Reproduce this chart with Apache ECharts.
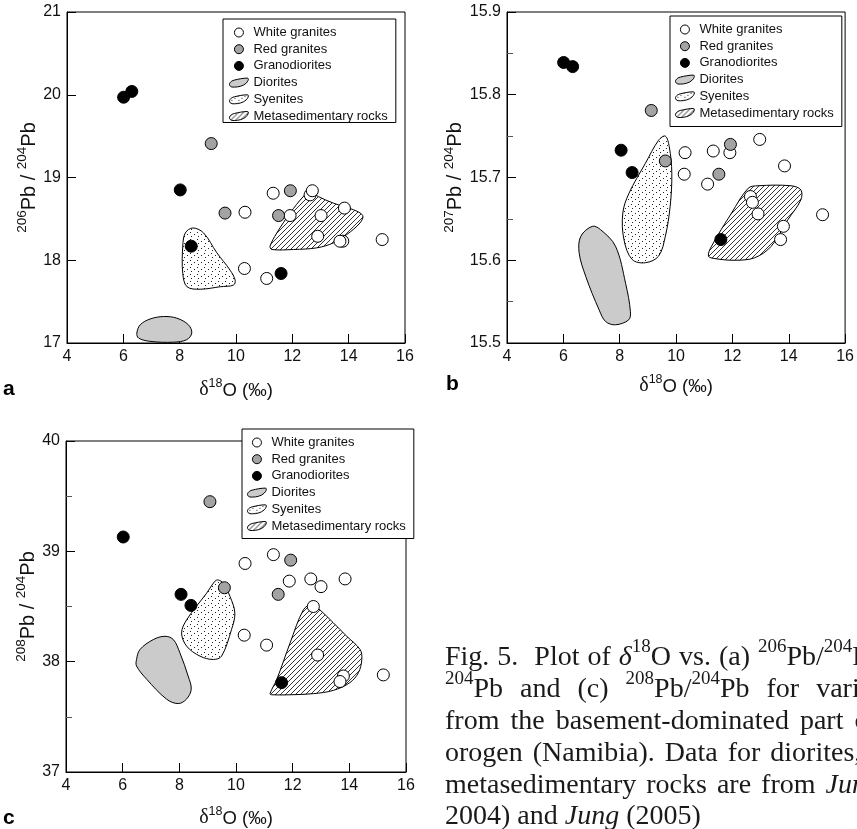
<!DOCTYPE html>
<html>
<head>
<meta charset="utf-8">
<title>d18O vs Pb isotopes</title>
<script src="https://cdn.jsdelivr.net/npm/echarts@6/dist/echarts.min.js"></script>
<style>
html, body { margin: 0; padding: 0; background: #fff; }
#chart { width: 857px; height: 829px; }
</style>
</head>
<body>
<div id="chart"></div>
<script>
// (a) 206Pb/204Pb
var whiteA = [[11.32,18.81],[11.92,18.54],[10.32,18.58],[10.30,17.90],[11.09,17.78],[12.63,18.79],[12.71,18.84],[13.02,18.54],[12.90,18.29],[13.85,18.63],[13.79,18.23],[13.69,18.23],[15.19,18.25]];
var redA = [[9.12,19.41],[9.61,18.57],[11.93,18.84],[11.51,18.54]];
var granoA = [[6.01,19.97],[6.30,20.04],[8.02,18.85],[8.41,18.17],[11.60,17.84]];
var dioriteA = [[6.48,17.12],[6.60,17.22],[6.95,17.29],[7.43,17.32],[7.90,17.30],[8.31,17.22],[8.43,17.12],[8.25,17.04],[7.78,17.01],[6.95,17.02],[6.54,17.06]];
var syeniteA = [[8.47,18.39],[8.85,18.33],[9.32,18.09],[9.79,17.88],[9.97,17.76],[9.91,17.70],[9.44,17.68],[8.73,17.65],[8.26,17.68],[8.11,17.84],[8.11,18.17],[8.20,18.33]];
var metaA = [[11.21,18.17],[11.45,18.33],[11.92,18.57],[12.39,18.77],[12.63,18.83],[12.92,18.77],[13.46,18.69],[14.17,18.61],[14.50,18.54],[14.40,18.45],[13.93,18.31],[13.46,18.21],[12.87,18.15],[12.04,18.13],[11.27,18.13]];

// (b) 207Pb/204Pb
var whiteB = [[10.32,15.730],[10.29,15.704],[11.32,15.732],[11.91,15.730],[11.12,15.692],[12.97,15.746],[13.85,15.714],[12.64,15.677],[12.71,15.670],[12.91,15.656],[13.81,15.641],[13.71,15.625],[15.20,15.655]];
var redB = [[9.12,15.781],[9.62,15.720],[11.93,15.740],[11.52,15.704]];
var granoB = [[6.01,15.839],[6.33,15.834],[8.05,15.733],[8.44,15.706],[11.59,15.625]];
var dioriteB = [[7.03,15.641],[7.32,15.637],[7.85,15.617],[8.21,15.572],[8.38,15.538],[8.32,15.528],[7.85,15.522],[7.50,15.526],[7.27,15.540],[6.80,15.580],[6.56,15.609],[6.62,15.629]];
var syeniteB = [[9.62,15.750],[9.76,15.737],[9.85,15.705],[9.79,15.665],[9.62,15.629],[9.38,15.605],[8.91,15.597],[8.44,15.601],[8.15,15.625],[8.11,15.657],[8.33,15.681],[8.91,15.717],[9.38,15.745]];
var metaB = [[11.15,15.605],[11.26,15.617],[11.97,15.657],[12.56,15.687],[12.91,15.690],[14.08,15.690],[14.43,15.685],[14.43,15.673],[13.97,15.649],[13.38,15.617],[12.79,15.603],[12.09,15.600],[11.38,15.602]];

// (c) 208Pb/204Pb
var whiteC = [[11.32,38.97],[10.32,38.89],[11.88,38.73],[12.64,38.75],[13.00,38.68],[13.85,38.75],[12.73,38.50],[10.29,38.24],[11.08,38.15],[12.88,38.06],[13.79,37.87],[13.67,37.82],[15.20,37.88]];
var redC = [[9.08,39.45],[9.59,38.67],[11.93,38.92],[11.49,38.61]];
var granoC = [[6.02,39.13],[8.06,38.61],[8.41,38.51],[11.61,37.81]];
var dioriteC = [[6.49,38.02],[6.61,38.11],[7.08,38.20],[7.49,38.23],[7.79,38.20],[8.02,38.08],[8.31,37.87],[8.42,37.75],[8.25,37.66],[7.96,37.62],[7.55,37.66],[6.85,37.84],[6.49,37.96]];
var syeniteC = [[9.38,38.74],[9.55,38.71],[9.79,38.59],[9.96,38.44],[9.84,38.29],[9.49,38.05],[9.20,38.02],[8.73,38.05],[8.26,38.14],[8.08,38.26],[8.26,38.38],[8.96,38.62],[9.26,38.73]];
var metaC = [[11.20,37.71],[11.44,37.84],[11.91,38.17],[12.38,38.47],[12.68,38.52],[12.96,38.47],[13.91,38.23],[14.38,38.11],[14.44,38.02],[14.32,37.90],[14.02,37.81],[13.44,37.74],[12.73,37.71],[11.91,37.70],[11.26,37.70]];

var yRanges = [[17, 21, 1], [15.5, 15.9, 0.1], [37, 40, 1]];
var yIso = ['206', '207', '208'];
var panelLetters = ['a', 'b', 'c'];

var captionLines = [
    'Fig. 5.  Plot of *δ*^18^O vs. (a) ^206^Pb/^204^Pb, (b) ^207^Pb/',
    '^204^Pb and (c) ^208^Pb/^204^Pb for various granitoids',
    'from the basement-dominated part of the Damara',
    'orogen (Namibia). Data for diorites, syenites and',
    'metasedimentary rocks are from *Jung* *et* *al.* (2000,',
    '2004) and *Jung* (2005)'
];
var captionGaps = [8, 17, 11, 10, 10, 7];

var SANS = 'Liberation Sans';
var SERIF = 'Liberation Serif';

// fill textures for the fields
function stipple() {
    var c = document.createElement('canvas');
    c.width = 7; c.height = 7;
    var g = c.getContext('2d');
    g.fillStyle = '#fff'; g.fillRect(0, 0, 7, 7);
    g.fillStyle = '#222';
    g.fillRect(1, 1, 1, 1); g.fillRect(5, 3, 1, 1); g.fillRect(2, 5, 1, 1);
    return { image: c, repeat: 'repeat' };
}
function hatch() {
    var s = 5;
    var c = document.createElement('canvas');
    c.width = s; c.height = s;
    var g = c.getContext('2d');
    g.fillStyle = '#fff'; g.fillRect(0, 0, s, s);
    g.strokeStyle = '#000'; g.lineWidth = 0.8;
    for (var k = -1; k <= 1; k++) {
        g.beginPath();
        g.moveTo(k * s - 1, s + 1);
        g.lineTo(k * s + s + 1, -1);
        g.stroke();
    }
    return { image: c, repeat: 'repeat' };
}
var dotFill = stipple();
var hatchFill = hatch();
var blob = 'path://M1,8 C-1,6 1,3 5,2 C9,1 14,0 18,0 C20,0 19,3 17,5 C14,8 9,9 5,9 C3,9 2,9 1,8 Z';

function field(name, pts, gi, fill) {
    return {
        name: name, type: 'custom', xAxisIndex: gi, yAxisIndex: gi,
        clip: false, z: 2, silent: true,
        itemStyle: { color: fill, borderColor: '#000', borderWidth: 1 },
        data: pts,
        renderItem: function (params, api) {
            if (params.dataIndex !== 0) return;
            var p = pts.map(function (d) { return api.coord(d); });
            return {
                type: 'polygon',
                shape: { points: p, smooth: 0.35 },
                style: { fill: fill, stroke: '#000', lineWidth: 1 }
            };
        }
    };
}
function dots(name, pts, gi, color) {
    return {
        name: name, type: 'scatter', xAxisIndex: gi, yAxisIndex: gi,
        symbol: 'circle', symbolSize: 12, z: 5, silent: true,
        itemStyle: { color: color, borderColor: '#000', borderWidth: 1, opacity: 1 },
        data: pts
    };
}

var grids = [
    { left: 67, top: 12, width: 338, height: 331 },
    { left: 507, top: 12, width: 341, height: 331 },
    { left: 66, top: 441, width: 340, height: 332 }
];
var xNameGap = [34, 30, 33];

var xAxes = [], yAxes = [], legends = [];
var legendPos = [
    { left: 223, top: 19, padding: [7, 8, 0, 6] },
    { left: 670, top: 16, padding: [7, 8, 7, 5] },
    { left: 242, top: 429, padding: [7, 8, 6, 5] }
];
var legendData = ['White granites', 'Red granites', 'Granodiorites',
    { name: 'Diorites', icon: blob }, { name: 'Syenites', icon: blob },
    { name: 'Metasedimentary rocks', icon: blob }];

for (var i = 0; i < 3; i++) {
    grids[i].show = true;
    grids[i].borderColor = '#000';
    grids[i].borderWidth = 1;
    xAxes.push({
        gridIndex: i, type: 'value', min: 4, max: 16, interval: 2,
        name: '{d|δ}{s|18}{m|O (‰)}', nameLocation: 'middle', nameGap: xNameGap[i],
        nameTextStyle: { rich: {
            d: { fontFamily: SERIF, fontSize: 20, lineHeight: 23, verticalAlign: 'bottom', color: '#111' },
            m: { fontFamily: SANS, fontSize: 18.5, lineHeight: 23, verticalAlign: 'bottom', color: '#111' },
            s: { fontFamily: SANS, fontSize: 12.5, lineHeight: 10, verticalAlign: 'top', color: '#111' }
        } },
        axisLine: { onZero: false, lineStyle: { color: '#000', width: 1 } },
        axisTick: { inside: true, length: 9, lineStyle: { color: '#000' } },
        axisLabel: { fontFamily: SANS, fontSize: 16, color: '#111', margin: 6 },
        splitLine: { show: false }
    });
    var r = yRanges[i];
    yAxes.push({
        gridIndex: i, type: 'value', min: r[0], max: r[1], interval: r[2],
        name: '{s|' + yIso[i] + '}{m|Pb / }{s|204}{m|Pb}', nameLocation: 'middle', nameGap: 28,
        nameTextStyle: { rich: {
            m: { fontFamily: SANS, fontSize: 20, lineHeight: 24, verticalAlign: 'bottom', color: '#111' },
            s: { fontFamily: SANS, fontSize: 13.5, lineHeight: 11, verticalAlign: 'top', color: '#111' }
        } },
        axisLine: { onZero: false, lineStyle: { color: '#000', width: 1 } },
        axisTick: { inside: true, length: 9, lineStyle: { color: '#000' } },
        minorTick: { show: i > 0, splitNumber: 2, length: 6, lineStyle: { color: '#555' } },
        axisLabel: {
            fontFamily: SANS, fontSize: 16, color: '#111', margin: 6,
            formatter: i === 1 ? function (v) { return v.toFixed(1); } : '{value}'
        },
        splitLine: { show: false }
    });
    legends.push({
        left: legendPos[i].left, top: legendPos[i].top, padding: legendPos[i].padding,
        orient: 'vertical', itemWidth: 19, itemHeight: 9, itemGap: 3.7,
        borderColor: '#000', borderWidth: 1, backgroundColor: '#fff', z: 10,
        selectedMode: false,
        itemStyle: { borderColor: '#000', borderWidth: 1 },
        textStyle: { fontFamily: SANS, fontSize: 13, color: '#111' },
        data: legendData
    });
}

var series = [
    field('Diorites', dioriteA, 0, '#cbcbcb'), field('Syenites', syeniteA, 0, dotFill), field('Metasedimentary rocks', metaA, 0, hatchFill),
    field('Diorites', dioriteB, 1, '#cbcbcb'), field('Syenites', syeniteB, 1, dotFill), field('Metasedimentary rocks', metaB, 1, hatchFill),
    field('Diorites', dioriteC, 2, '#cbcbcb'), field('Syenites', syeniteC, 2, dotFill), field('Metasedimentary rocks', metaC, 2, hatchFill),
    dots('White granites', whiteA, 0, '#fff'), dots('Red granites', redA, 0, '#a3a3a3'), dots('Granodiorites', granoA, 0, '#000'),
    dots('White granites', whiteB, 1, '#fff'), dots('Red granites', redB, 1, '#a3a3a3'), dots('Granodiorites', granoB, 1, '#000'),
    dots('White granites', whiteC, 2, '#fff'), dots('Red granites', redC, 2, '#a3a3a3'), dots('Granodiorites', granoC, 2, '#000')
];

// caption: ^x^ = superscript, *x* = italic
function toRich(line) {
    return line.split(' ').map(function (word) {
        return word.split(/(\^[^^]+\^|\*[^*]+\*)/).filter(function (t) { return t; }).map(function (t) {
            if (t[0] === '^') return '{u|' + t.slice(1, -1) + '}';
            if (t[0] === '*') return '{i|' + t.slice(1, -1) + '}';
            return '{r|' + t + '}';
        }).join('');
    }).join('{sp| }');
}
var graphics = [];
var labelPos = [[3, 389], [446, 384], [3, 818]];
panelLetters.forEach(function (t, k) {
    graphics.push({ type: 'text', x: labelPos[k][0], y: labelPos[k][1], silent: true,
        style: { text: t, font: 'bold 21px ' + SANS, fill: '#000', verticalAlign: 'middle' } });
});
captionLines.forEach(function (line, k) {
    graphics.push({
        type: 'text', x: 445, y: 638 + 31.8 * k, silent: true,
        style: {
            text: toRich(line), verticalAlign: 'top', align: 'left',
            rich: {
                r: { fontFamily: SERIF, fontSize: 28, lineHeight: 34, verticalAlign: 'bottom', fill: '#1a1a1a' },
                i: { fontFamily: SERIF, fontSize: 28, fontStyle: 'italic', lineHeight: 34, verticalAlign: 'bottom', fill: '#1a1a1a' },
                u: { fontFamily: SERIF, fontSize: 19, lineHeight: 12, verticalAlign: 'top', fill: '#1a1a1a' },
                sp: { fontFamily: SERIF, fontSize: 28, lineHeight: 34, width: captionGaps[k], verticalAlign: 'bottom' }
            }
        }
    });
});

var chart = echarts.init(document.getElementById('chart'));
chart.setOption({
    animation: false,
    backgroundColor: '#fff',
    grid: grids,
    xAxis: xAxes,
    yAxis: yAxes,
    legend: legends,
    series: series,
    graphic: graphics
});
</script>
</body>
</html>
